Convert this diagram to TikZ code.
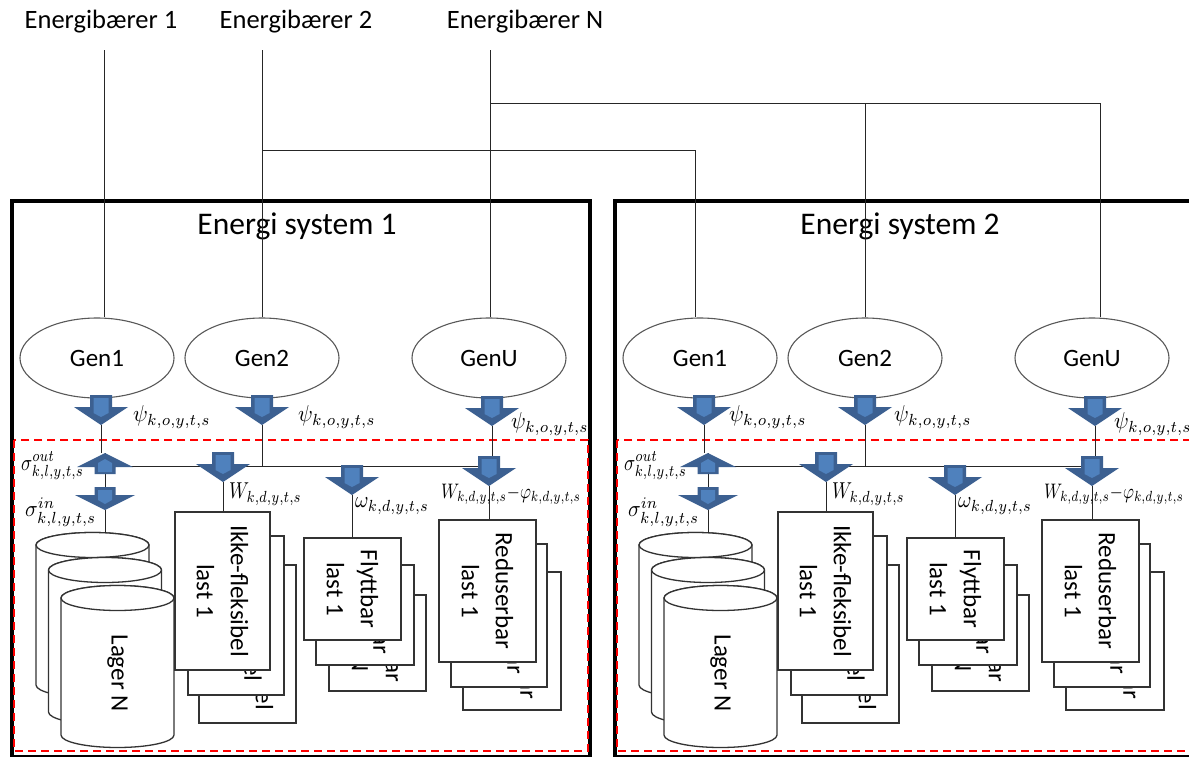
\documentclass[tikz,border=0pt]{standalone}
\usepackage{fontspec}
\setmainfont{Carlito}
\usetikzlibrary{shapes.geometric}
\definecolor{arrdark}{RGB}{60,96,145}
\definecolor{arrlight}{RGB}{79,129,189}
\tikzset{
  wire/.style={line width=1pt, draw=black!85},
  gen/.style={ellipse, draw=black!65, line width=1.1pt, fill=white, minimum width=154pt, minimum height=80pt, inner sep=0pt, font=\fontsize{25}{30}\selectfont},
  sysframe/.style={line width=4pt, draw=black},
  redbox/.style={draw=red, line width=2pt, dash pattern=on 8pt off 5pt},
  title/.style={font=\fontsize{31.5}{36}\selectfont, inner sep=0pt},
  toplab/.style={font=\fontsize{26.5}{30}\selectfont, inner sep=0pt},
  lbox/.style={draw=black!80, line width=1.3pt, fill=white, rotate=-90, align=center, inner sep=0pt, font=\fontsize{25}{34}\selectfont},
  cylst/.style={draw=black!80, line width=1.3pt, fill=white},
  cyltext/.style={rotate=-90, inner sep=0pt, font=\fontsize{25}{30}\selectfont},
  mlab/.style={anchor=west, inner sep=0pt},
  darr/.pic={
    \fill[arrdark] (0,0) -- (-27,-18) -- (-11,-18) -- (-11,-30) -- (11,-30) -- (11,-18) -- (27,-18) -- cycle;
    \fill[arrlight] (-7.5,-27) -- (7.5,-27) -- (7.5,-12) -- (0,-8) -- (-7.5,-12) -- cycle;
  },
  darrs/.pic={
    \fill[arrdark] (0,0) -- (-30,-15) -- (-10.5,-15) -- (-10.5,-23) -- (10.5,-23) -- (10.5,-15) -- (30,-15) -- cycle;
    \fill[arrlight] (-7,-20) -- (7,-20) -- (7,-10) -- (0,-6) -- (-7,-10) -- cycle;
  },
  uarr/.pic={
    \fill[arrdark] (0,0) -- (28,14) -- (10.5,14) -- (10.5,21) -- (-10.5,21) -- (-10.5,14) -- (-28,14) -- cycle;
    \fill[arrlight] (0,6) -- (7,10) -- (7,19) -- (-7,19) -- (-7,10) -- cycle;
  },
}
\newcommand{\mlx}[2]{\scalebox{#1}[2.3]{$#2$}}
\newcommand{\lbx}[6]{\node[lbox, minimum width={#5-#3}, minimum height={#4-#2}] (#1) at ({(#2+#4)/2},{(#3+#5)/2}) {#6};}
\newcommand{\cyl}[3]{%
  \filldraw[cylst] ({#1-56.5},#2) -- ({#1-56.5},{#2+#3}) arc[start angle=180,end angle=360,x radius=56.5pt,y radius=12.5pt] -- ({#1+56.5},#2) arc[start angle=0,end angle=180,x radius=56.5pt,y radius=12.5pt] -- cycle;
  \draw[cylst] (#1,#2) ellipse[x radius=56.5pt, y radius=12.5pt];}
% #1 prefix, #2 title, #3 x-correction for left psi labels
\newcommand{\drawsys}[3]{%
  \draw[sysframe] (12,201) rectangle (590,757);
  \node[title] (#1title) at (297,226) {#2};
  \draw[redbox] (14,440) rectangle (588,751);
  \node[gen] (#1g1) at (97,358) {Gen1};
  \node[gen] (#1g2) at (262,358) {Gen2};
  \node[gen] (#1gu) at (489,358) {GenU};
  \coordinate (#1t1) at (101,425);
  \coordinate (#1t2) at (262,425);
  \coordinate (#1tu) at (492,426);
  \coordinate (#1so) at (105,453);
  \coordinate (#1sob) at (105,474);
  \coordinate (#1sit) at (105,487);
  \coordinate (#1si) at (105,510);
  \coordinate (#1busR) at (492,466);
  \coordinate (#1wt) at (223,482);
  \coordinate (#1ot) at (352,495);
  \coordinate (#1rt) at (489,486);
  \coordinate (#1cyl) at (105,533);
  % storage
  \cyl{92.5}{545}{140}
  \cyl{105}{570}{142}
  \cyl{117.5}{598}{137}
  \node[cyltext] (#1lag) at (117.5,673) {Lager N};
  % loads
  \lbx{#1ik3}{199}{565}{296}{723}{Ikke-fleksibel\\last N}
  \lbx{#1ik2}{188}{536}{284}{695}{Ikke-fleksibel\\last 2}
  \lbx{#1ik1}{175}{512}{270}{670}{Ikke-fleksibel\\last 1}
  \lbx{#1fl3}{329}{595}{426}{691}{Flyttbar\\last N}
  \lbx{#1fl2}{316}{565}{414}{665}{Flyttbar\\last 2}
  \lbx{#1fl1}{304}{538}{401}{640}{Flyttbar\\last 1}
  \lbx{#1re3}{463}{572}{561}{710}{Reduserbar\\last N}
  \lbx{#1re2}{451}{544}{547}{687}{Reduserbar\\last 2}
  \lbx{#1re1}{439}{520}{536}{662}{Reduserbar\\last 1}
  % wires
  \draw[wire] (#1t1) -- (#1t1 |- #1so);
  \draw[wire] (#1so) -- (#1so |- #1busR) -- (#1busR);
  \draw[wire] (#1t2) -- (#1t2 |- #1busR);
  \draw[wire] (#1tu) -- (#1busR);
  \draw[wire] (#1sob) -- (#1sit);
  \draw[wire] (#1si) -- (#1cyl);
  \draw[wire] (#1wt) -- (#1wt |- #1ik1.west);
  \draw[wire] (#1ot) -- (#1ot |- #1fl1.west);
  \draw[wire] (#1rt) -- (#1rt |- #1re1.west);
  % arrows
  \pic at (#1t1) {darr};
  \pic at (#1t2) {darr};
  \pic at (#1tu) {darr};
  \pic at (#1wt) {darr};
  \pic at (#1ot) {darr};
  \pic at (#1rt) {darr};
  \pic at (#1so) {uarr};
  \pic at (#1si) {darrs};
  % labels
  \node[mlab] (#1lp1) at ({133+#3},417) {\mlx{2.15}{\psi_{k,o,y,t,s}}};
  \node[mlab] (#1lp2) at ({298+#3},417) {\mlx{2.15}{\psi_{k,o,y,t,s}}};
  \node[mlab] (#1lpu) at (511,424) {\mlx{2.15}{\psi_{k,o,y,t,s}}};
  \node[mlab] (#1lso) at (21,466) {\mlx{1.85}{\sigma^{out}_{k,l,y,t,s}}};
  \node[mlab] (#1lsi) at (25,512) {\mlx{2.1}{\sigma^{in}_{k,l,y,t,s}}};
  \node[mlab] (#1lw) at (229,494) {\mlx{1.85}{W_{k,d,y,t,s}}};
  \node[mlab] (#1lo) at (355,506) {\mlx{2.05}{\omega_{k,d,y,t,s}}};
  \node[mlab] (#1lr) at (441,494) {\scalebox{1.68}[2.1]{$W_{k,d,y,t,s}{-}\varphi_{k,d,y,t,s}$}};
}
\begin{document}
\begin{tikzpicture}[x=1pt,y=-1pt]
\useasboundingbox (0,0) rectangle (1189,756);
\clip (0,0) rectangle (1189,756);
\fill[white] (0,0) rectangle (1189,756);
\node[toplab] (e1) at (101,22) {Energibærer 1};
\node[toplab] (e2) at (296,22) {Energibærer 2};
\node[toplab] (en) at (525,22) {Energibærer N};
\begin{scope}
\drawsys{S1}{Energi system 1}{0}
\end{scope}
\begin{scope}[xshift=603pt]
\drawsys{S2}{Energi system 2}{-7}
\end{scope}
\coordinate (e1s) at (104,50);
\coordinate (e2s) at (262,50);
\coordinate (ens) at (490,50);
\coordinate (j2) at (262,150);
\coordinate (k2) at (695,150);
\coordinate (jn) at (490,103);
\coordinate (mn) at (865,103);
\coordinate (kn) at (1100,103);
\draw[wire] (e1s) -- (e1s |- S1g1.north);
\draw[wire] (e2s) -- (e2s |- S1g2.north);
\draw[wire] (ens) -- (ens |- S1gu.north);
\draw[wire] (j2) -- (k2) -- (k2 |- S2g1.north);
\draw[wire] (jn) -- (kn) -- (kn |- S2gu.north);
\draw[wire] (mn) -- (mn |- S2g2.north);
\end{tikzpicture}
\end{document}
